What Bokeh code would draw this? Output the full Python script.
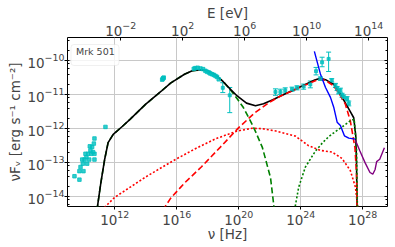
import numpy as np
from bokeh.plotting import figure
from bokeh.models import (Range1d, LogAxis, LogScale, FixedTicker, LogTicker,
                          ColumnDataSource, Whisker, TeeHead, BoxAnnotation, Label,
                          CustomJSTickFormatter)
from bokeh.embed import file_html
from bokeh.resources import INLINE

H_EV = 4.135667696e-15  # eV s, converts nu [Hz] to E [eV]

# ---------------- data: log10(nu / Hz), log10(nuFnu / erg s^-1 cm^-2) ----------------
# observed points (cyan)
radio_lognu = [9.40, 9.72, 9.72, 9.79, 9.90, 9.94, 9.98, 10.05, 10.11, 10.17, 10.22, 10.28,
               10.35, 10.39, 10.43, 10.48, 10.54, 10.60, 10.65, 10.69, 10.69, 10.69, 11.40]
radio_logf = [-13.40, -13.50, -13.25, -13.13, -12.91, -13.03, -13.25, -12.91, -12.74, -12.84,
              -13.03, -12.74, -12.91, -12.52, -12.64, -12.74, -12.54, -12.69, -12.44, -12.29,
              -12.74, -12.91, -11.95]

opt_lognu = [15.06, 15.10, 15.13, 15.16]
opt_logf = [-10.56, -10.53, -10.52, -10.50]

xray_lognu = [17.10, 17.20, 17.35, 17.53, 17.70, 17.85, 17.96, 18.08, 18.17, 18.28, 18.39,
              18.50, 18.60, 18.71]
xray_logf = [-10.24, -10.22, -10.21, -10.23, -10.25, -10.30, -10.33, -10.35, -10.38, -10.40,
             -10.42, -10.45, -10.48, -10.55]

err_lognu = [18.97, 19.42, 22.37, 22.69, 23.00, 23.44, 23.76, 24.19, 24.62, 24.99, 25.38,
             25.80, 25.27, 26.00, 26.24, 26.35, 26.45, 26.56, 26.67, 26.77, 26.99, 27.10]
err_logf = [-10.80, -11.02, -10.92, -10.92, -10.87, -10.84, -10.80, -10.76, -10.70, -10.31,
            -10.05, -9.95, -10.53, -10.58, -10.73, -10.82, -10.92, -10.87, -11.02, -11.07,
            -11.12, -11.26]
err_lo = [-10.94, -11.53, -11.02, -11.00, -10.95, -10.90, -10.86, -10.84, -10.80, -10.42,
          -10.18, -10.32, -10.58, -10.63, -10.79, -10.88, -10.98, -10.93, -11.08, -11.13,
          -11.18, -11.33]
err_hi = [-10.65, -10.79, -10.83, -10.84, -10.80, -10.78, -10.74, -10.69, -10.60, -10.20,
          -9.90, -9.75, -10.48, -10.53, -10.67, -10.76, -10.86, -10.81, -10.96, -11.01,
          -11.06, -11.19]

# model curves
total_lognu = [10.85, 11.10, 11.35, 11.57, 11.90, 12.50, 13.00, 14.00, 15.00, 15.60, 16.50,
               17.00, 17.53, 18.00, 18.50, 19.00, 19.50, 19.90, 20.50, 21.08, 21.60, 22.20,
               22.70, 23.50, 24.30, 24.90, 25.27, 25.60, 26.13, 26.50, 26.88, 27.20, 27.42,
               27.55, 27.60, 27.64]
total_logf = [-14.40, -13.60, -12.90, -12.41, -12.17, -11.93, -11.72, -11.28, -10.90, -10.66,
              -10.40, -10.30, -10.27, -10.30, -10.42, -10.62, -10.86, -11.04, -11.25, -11.33,
              -11.27, -11.15, -11.04, -10.87, -10.70, -10.57, -10.52, -10.56, -10.70, -10.95,
              -11.24, -11.50, -11.68, -12.20, -13.00, -14.40]

sync_lognu = [10.85, 11.10, 11.35, 11.57, 11.90, 12.50, 13.00, 14.00, 15.00, 15.60, 16.50,
              17.00, 17.53, 18.00, 18.50, 19.00, 19.50, 19.90, 20.30, 20.75, 21.10, 21.53,
              22.05, 22.30]
sync_logf = [-14.40, -13.60, -12.90, -12.41, -12.17, -11.93, -11.72, -11.28, -10.90, -10.66,
             -10.40, -10.30, -10.27, -10.30, -10.42, -10.62, -10.88, -11.12, -11.38, -11.77,
             -12.10, -12.56, -13.44, -14.40]

ssc_lognu = [15.10, 15.60, 16.50, 17.60, 18.80, 20.00, 21.00, 22.00, 22.70, 23.50, 24.30,
             24.90, 25.27, 25.60, 26.13, 26.50, 26.88, 27.20, 27.50, 27.60, 27.64]
ssc_logf = [-14.40, -14.05, -13.60, -13.12, -12.55, -11.97, -11.55, -11.22, -11.04, -10.88,
            -10.72, -10.60, -10.55, -10.58, -10.75, -10.98, -11.28, -11.77, -12.56, -13.30,
            -14.40]

comp2_lognu = [11.15, 12.00, 13.00, 14.00, 15.00, 15.98, 17.20, 18.50, 19.90, 20.86, 21.50,
               22.40, 23.66, 24.50, 25.27, 26.03, 26.67, 27.20, 27.53, 27.70]
comp2_logf = [-14.40, -14.02, -13.72, -13.42, -13.15, -12.89, -12.59, -12.30, -12.07, -11.99,
              -12.00, -12.07, -12.22, -12.50, -12.64, -12.69, -12.88, -13.23, -13.72, -14.40]

ec_lognu = [23.60, 23.87, 24.30, 24.95, 25.40, 25.80, 26.20, 26.67, 27.20, 27.45, 27.60, 27.66]
ec_logf = [-14.40, -13.72, -13.13, -12.66, -12.42, -12.24, -12.10, -11.95, -11.77, -11.72,
           -12.60, -14.40]

sens1_lognu = [24.88, 25.27, 25.60, 25.92, 26.13, 26.35, 26.56, 26.82, 27.10, 27.53]
sens1_logf = [-9.73, -10.39, -10.79, -11.08, -11.37, -11.81, -11.91, -12.21, -12.28, -12.31]

sens2_lognu = [27.53, 27.82, 28.15, 28.47, 28.65, 28.80, 28.90, 29.10, 29.40]
sens2_logf = [-12.34, -12.66, -13.00, -13.29, -13.34, -13.20, -12.97, -12.90, -12.56]

x_ticks_hz = [1e12, 1e16, 1e20, 1e24, 1e28]
x_ticks_ev = [1e-2, 1e2, 1e6, 1e10, 1e14]
y_ticks = [1e-14, 1e-13, 1e-12, 1e-11, 1e-10]

XLOG = (8.95, 29.6)
YLOG = (-14.29, -9.32)


def pw(a):
    return 10.0 ** np.asarray(a, dtype=float)


FONT = "DejaVu Sans"
CYAN = "#00bfbf"
FW, FH = 320, 169                     # frame size in px
PX_X = FW / (XLOG[1] - XLOG[0])       # px per decade (x)
PX_Y = FH / (YLOG[1] - YLOG[0])       # px per decade (y)

p = figure(width=395, height=247, x_axis_type="log", y_axis_type="log",
           x_range=Range1d(*pw(XLOG)), y_range=Range1d(*pw(YLOG)),
           extra_x_ranges={"E": Range1d(*(pw(XLOG) * H_EV))},
           extra_x_scales={"E": LogScale()},
           output_backend="svg", toolbar_location=None,
           min_border_left=67, min_border_right=8, min_border_top=37, min_border_bottom=41)

p.outline_line_color = "black"
p.outline_line_alpha = 1.0
p.outline_line_width = 1

# curves
p.line(pw(sync_lognu), pw(sync_logf), line_color="green", line_width=1.6, line_dash="6 3")
p.line(pw(total_lognu), pw(total_logf), line_color="black", line_width=1.6)
p.line(pw(ssc_lognu), pw(ssc_logf), line_color="red", line_width=1.6, line_dash="6 3")
p.line(pw(comp2_lognu), pw(comp2_logf), line_color="red", line_width=1.6, line_dash="2 2")
p.line(pw(ec_lognu), pw(ec_logf), line_color="green", line_width=1.6, line_dash="2 2")
p.line(pw(sens1_lognu), pw(sens1_logf), line_color="blue", line_width=1.4)
p.line(pw(sens2_lognu), pw(sens2_logf), line_color="purple", line_width=1.4)

# data points
for xs, ys in ((radio_lognu, radio_logf), (opt_lognu, opt_logf), (xray_lognu, xray_logf)):
    p.scatter(pw(xs), pw(ys), marker="square", size=3.5, color=CYAN, alpha=0.8)

src = ColumnDataSource(dict(x=pw(err_lognu), y=pw(err_logf), lo=pw(err_lo), hi=pw(err_hi)))
p.add_layout(Whisker(source=src, base="x", lower="lo", upper="hi", dimension="height",
                     line_color=CYAN, line_width=1,
                     upper_head=TeeHead(size=5, line_color=CYAN, line_width=1),
                     lower_head=TeeHead(size=5, line_color=CYAN, line_width=1)))
p.scatter("x", "y", source=src, marker="square", size=3, color=CYAN, alpha=0.8)

# axes
bottom = p.below[0]
left = p.left[0]
bottom.ticker = FixedTicker(ticks=x_ticks_hz)
left.ticker = LogTicker(desired_num_ticks=6)
bottom.axis_label = "ν [Hz]"
left.axis_label = "νFᵥ [erg s⁻¹ cm⁻²]"

top = LogAxis(x_range_name="E", ticker=FixedTicker(ticks=x_ticks_ev), axis_label="E [eV]")
p.add_layout(top, "above")
right = LogAxis(ticker=LogTicker(desired_num_ticks=6),
                formatter=CustomJSTickFormatter(code="return ''"))
p.add_layout(right, "right")

for ax in (bottom, left, top, right):
    ax.major_label_text_font = FONT
    ax.major_label_text_font_size = "13.5px"
    ax.axis_label_text_font = FONT
    ax.axis_label_text_font_size = "13.5px"
    ax.axis_label_text_font_style = "normal"
    ax.axis_line_color = None
    ax.major_tick_line_color = "black"
    ax.minor_tick_line_color = "black"
    ax.major_tick_out = 3
    ax.major_tick_in = 0
    ax.minor_tick_out = 0
    ax.minor_tick_in = 2

bottom.major_label_standoff = 0
bottom.axis_label_standoff = -2
left.major_label_standoff = 0
left.axis_label_standoff = 1
top.major_tick_out = 0
top.major_tick_in = 3
top.major_label_standoff = 2
top.axis_label_standoff = -3
right.major_tick_out = 0
right.major_tick_in = 3
right.major_label_standoff = 0
right.axis_label_standoff = 0

p.xgrid.ticker = FixedTicker(ticks=x_ticks_hz)
p.ygrid.ticker = FixedTicker(ticks=y_ticks)
p.grid.grid_line_color = "#c8c8c8"
p.grid.grid_line_width = 1

# legend-style label
bx0, bx1 = 10 ** (XLOG[0] + 3.5 / PX_X), 10 ** (XLOG[0] + 51.5 / PX_X)
by1, by0 = 10 ** (YLOG[1] - 7 / PX_Y), 10 ** (YLOG[1] - 28 / PX_Y)
p.add_layout(BoxAnnotation(left=bx0, right=bx1, bottom=by0, top=by1, fill_color="white",
                           fill_alpha=0.8, line_color="#cccccc", line_width=1, border_radius=3))
p.add_layout(Label(x=10 ** (XLOG[0] + 8.5 / PX_X), y=10 ** (YLOG[1] - 8 / PX_Y),
                   text="Mrk 501", text_font=FONT, text_font_size="9.5px",
                   text_baseline="top", text_align="left"))

open("out.html", "w").write(file_html(p, INLINE))
